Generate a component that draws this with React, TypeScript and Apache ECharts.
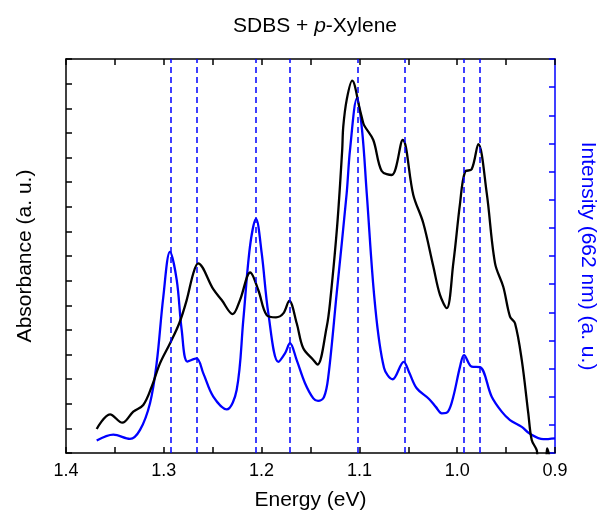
import React, { useEffect, useRef } from "react";
import * as echarts from "echarts";

// Absorbance (black), left axis units
const absEnergy = [1.3686, 1.355, 1.3424, 1.3312, 1.321, 1.3124, 1.3039, 1.2937, 1.2842, 1.2766, 1.2698, 1.265, 1.2494, 1.2408, 1.2296, 1.2221, 1.2116, 1.2034, 1.1948, 1.1853, 1.1778, 1.1717, 1.1641, 1.1574, 1.1471, 1.1428, 1.1334, 1.1301, 1.1228, 1.1176, 1.1165, 1.113, 1.1074, 1.0994, 1.096, 1.0943, 1.0858, 1.0772, 1.067, 1.0557, 1.0449, 1.0347, 1.0244, 1.0176, 1.0107, 1.004, 0.9971, 0.992, 0.9852, 0.9784, 0.9698, 0.9613, 0.9529, 0.946, 0.9409, 0.934, 0.9273, 0.9238, 0.9187, 0.9174, 0.9102, 0.9079, 0.9051];
const absValue = [0.975, 1.57, 1.23, 1.68, 1.95, 2.69, 3.64, 4.45, 5.27, 6.21, 7.3, 7.7, 6.65, 6.21, 5.64, 6.21, 7.33, 6.62, 5.6, 5.51, 5.67, 6.18, 5.27, 4.25, 3.78, 3.59, 5.13, 6.08, 9.19, 12.3, 13.25, 14.34, 15.12, 13.93, 13.39, 13.25, 12.71, 11.45, 11.29, 12.71, 10.48, 9.34, 7.57, 6.42, 5.88, 7.7, 10.14, 11.42, 11.52, 12.54, 10.55, 7.7, 6.75, 5.54, 5.27, 3.78, 1.61, 0.53, 0.12, -0.2, -0.3, 0.19, -0.3];

// PL intensity at 662 nm excitation (blue), right axis units
const plEnergy = [1.3686, 1.3516, 1.3346, 1.3243, 1.3141, 1.3073, 1.3005, 1.2937, 1.2868, 1.2817, 1.2758, 1.2666, 1.2596, 1.2494, 1.2357, 1.2255, 1.2187, 1.2119, 1.2057, 1.1999, 1.1931, 1.1829, 1.1761, 1.171, 1.1641, 1.1556, 1.1471, 1.1423, 1.1362, 1.1318, 1.1232, 1.113, 1.1096, 1.1025, 1.0973, 1.0925, 1.084, 1.0748, 1.066, 1.0547, 1.0493, 1.0414, 1.0288, 1.0217, 1.0158, 1.0094, 1.004, 0.9971, 0.993, 0.9852, 0.9767, 0.9647, 0.9545, 0.946, 0.934, 0.9256, 0.912, 0.9];
const plValue = [0.44, 0.65, 0.5, 0.82, 1.77, 3.19, 5.55, 7.15, 6.15, 4.37, 3.25, 3.36, 2.83, 2.0, 1.55, 2.24, 4.73, 7.33, 8.32, 7.1, 4.96, 3.24, 3.54, 3.9, 3.3, 2.48, 1.94, 1.85, 1.99, 2.71, 5.68, 9.23, 10.77, 12.6, 11.48, 9.23, 5.26, 3.02, 2.62, 3.24, 2.88, 2.3, 1.92, 1.63, 1.41, 1.47, 2.0, 3.07, 3.48, 3.07, 3.05, 2.0, 1.47, 1.17, 0.93, 0.68, 0.49, 0.52];

// Vertical reference lines (eV)
const peakLines = [1.293, 1.2664, 1.206, 1.171, 1.102, 1.054, 0.993, 0.977];

const FONT = "Liberation Sans, Arial, sans-serif";

export default function App() {
  const ref = useRef<HTMLDivElement>(null);
  useEffect(() => {
    if (!ref.current) return;
    const chart = echarts.init(ref.current, null, { renderer: "svg" });
    const xLabel = (v: number) =>
      Math.abs(v * 10 - Math.round(v * 10)) < 1e-6 ? v.toFixed(1) : "";
    chart.setOption({
      animation: false,
      textStyle: { fontFamily: FONT },
      title: {
        text: "{n|SDBS + }{i|p}{n|-Xylene}",
        left: 310,
        textAlign: "center",
        top: 9,
        textStyle: {
          fontWeight: "normal",
          rich: {
            n: { fontFamily: FONT, fontSize: 21, color: "#000", fontWeight: "normal" },
            i: { fontFamily: FONT, fontSize: 21, color: "#000", fontStyle: "italic", fontWeight: "normal" },
          },
        },
      },
      grid: { left: 66, right: 49, top: 59, bottom: 63, containLabel: false, outerBoundsMode: "none" },
      xAxis: [
        {
          type: "value",
          inverse: true,
          min: 0.9,
          max: 1.4,
          interval: 0.05,
          position: "bottom",
          name: "Energy (eV)",
          nameLocation: "middle",
          nameGap: 35,
          nameTextStyle: { fontFamily: FONT, fontSize: 21, color: "#000" },
          axisLine: { show: true, onZero: false, lineStyle: { color: "#000", width: 1.5 } },
          axisTick: { show: true, inside: true, length: 6, lineStyle: { color: "#000", width: 1.5 } },
          axisLabel: { formatter: xLabel, margin: 8, fontFamily: FONT, fontSize: 18, color: "#000" },
          splitLine: { show: false },
        },
        {
          type: "value",
          inverse: true,
          min: 0.9,
          max: 1.4,
          interval: 0.05,
          position: "top",
          axisLine: { show: true, onZero: false, lineStyle: { color: "#000", width: 1.5 } },
          axisTick: { show: true, inside: true, length: 6, lineStyle: { color: "#000", width: 1.5 } },
          axisLabel: { show: false },
          splitLine: { show: false },
        },
      ],
      yAxis: [
        {
          type: "value",
          min: 0,
          max: 16,
          interval: 1,
          position: "left",
          name: "Absorbance (a. u.)",
          nameLocation: "middle",
          nameGap: 32,
          nameTextStyle: { fontFamily: FONT, fontSize: 21, color: "#000" },
          axisLine: { show: true, onZero: false, lineStyle: { color: "#000", width: 1.5 } },
          axisTick: { show: true, inside: true, length: 6, lineStyle: { color: "#000", width: 1.5 } },
          axisLabel: { show: false },
          splitLine: { show: false },
        },
        {
          type: "value",
          min: 0,
          max: 14,
          interval: 1,
          position: "right",
          name: "Intensity (662 nm) (a. u.)",
          nameLocation: "middle",
          nameGap: 24,
          nameRotate: -90,
          nameTextStyle: { fontFamily: FONT, fontSize: 21, color: "#0000ff" },
          axisLine: { show: true, onZero: false, lineStyle: { color: "#0000ff", width: 1.5 } },
          axisTick: { show: true, inside: true, length: 6, lineStyle: { color: "#0000ff", width: 1.5 } },
          axisLabel: { show: false },
          splitLine: { show: false },
        },
      ],
      series: [
        {
          type: "line",
          name: "Absorbance",
          xAxisIndex: 0,
          yAxisIndex: 0,
          data: absEnergy.map((e, i) => [e, absValue[i]]),
          showSymbol: false,
          smooth: 0.35,
          clip: true,
          lineStyle: { color: "#000", width: 2.3 },
          z: 3,
        },
        {
          type: "line",
          name: "PL",
          xAxisIndex: 0,
          yAxisIndex: 1,
          data: plEnergy.map((e, i) => [e, plValue[i]]),
          showSymbol: false,
          smooth: 0.35,
          clip: true,
          lineStyle: { color: "#0000ff", width: 2.3 },
          z: 2,
          markLine: {
            silent: true,
            precision: 4,
            symbol: ["none", "none"],
            label: { show: false },
            lineStyle: { color: "#0000ff", type: [6, 4], width: 1.5 },
            data: peakLines.map((x) => ({ xAxis: x })),
          },
        },
      ],
    });
    return () => chart.dispose();
  }, []);
  return (
    <div
      ref={ref}
      style={{ position: "fixed", left: 0, top: 0, width: 604, height: 516 }}
    />
  );
}
